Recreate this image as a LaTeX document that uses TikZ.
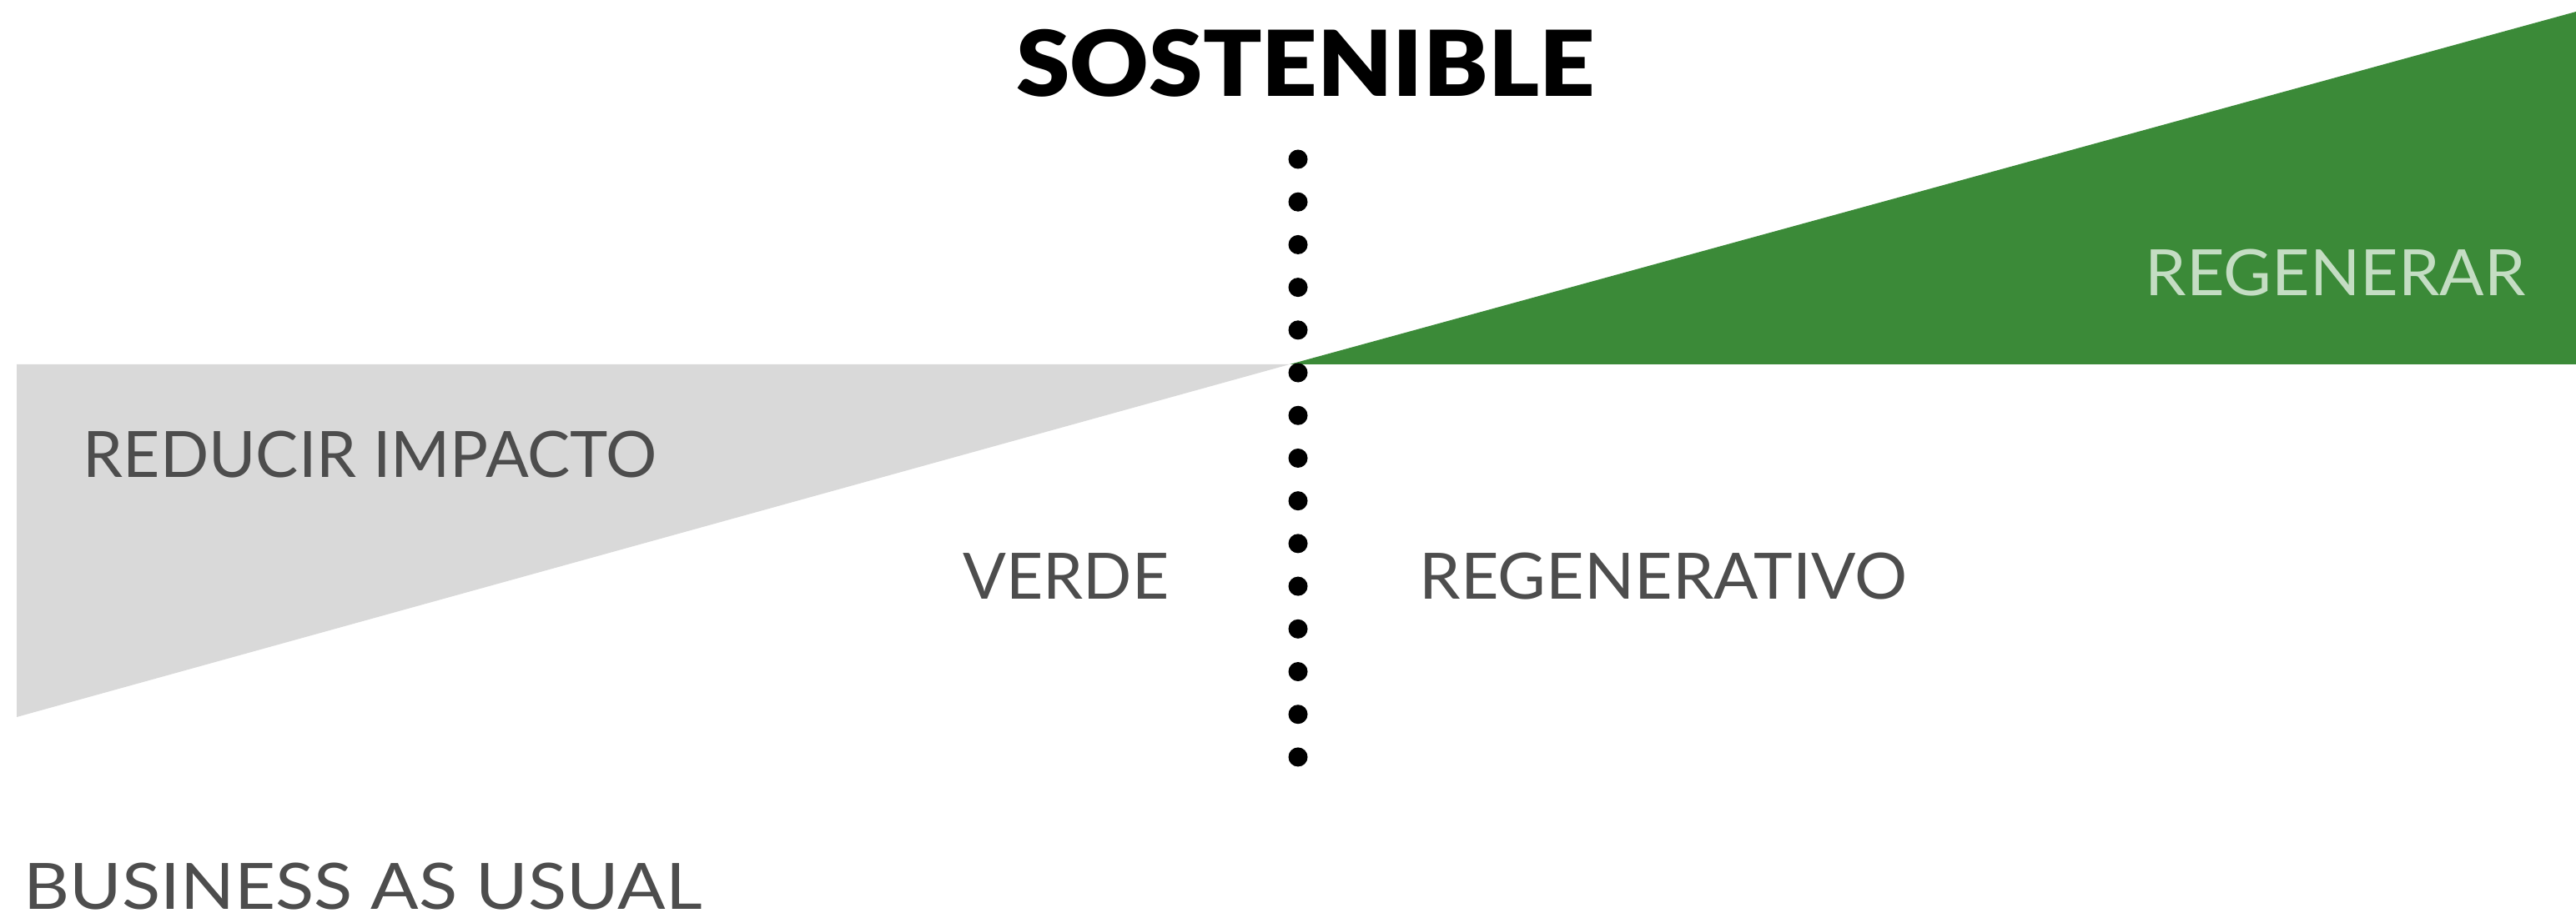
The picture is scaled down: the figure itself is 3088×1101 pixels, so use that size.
\documentclass[tikz,border=0pt]{standalone}
\usepackage{fontspec}
\setmainfont{Lato}
\newfontfamily\heavyfont{Lato Black}
\usetikzlibrary{positioning}
\definecolor{leafgreen}{HTML}{3B8A38}
\definecolor{palegreen}{HTML}{C4DDC3}
\definecolor{ashgray}{HTML}{D9D9D9}
\definecolor{inkgray}{HTML}{4D4D4D}
\tikzstyle{lbl} = [inner sep=0pt, anchor=base west, text=inkgray,
    text depth=0pt, font=\fontsize{21.8pt}{24pt}\selectfont]
\tikzstyle{head} = [inner sep=0pt, anchor=base,
    font=\heavyfont\fontsize{31pt}{34pt}\selectfont]

\begin{document}
\begin{tikzpicture}[x=0.01cm,y=-0.01cm]
  \useasboundingbox (0,0) rectangle (3088,1101);

  \coordinate (apex) at (1546,437);
  \coordinate (grayTop) at (20,437);
  \coordinate (grayLow) at (20,860);
  \coordinate (greenTop) at (3088,14);
  \coordinate (greenLow) at (3088,437);

  \fill[ashgray] (grayTop) -- (apex) -- (grayLow) -- cycle;
  \fill[leafgreen] (apex) -- (greenTop) -- (greenLow) -- cycle;

  % dotted divider
  \foreach \i in {0,...,14}
    \fill (1556,191+\i*51.21) circle [radius=1.15mm];

  \node[head, xscale=1.067] (sost) at (1565,116) {SOSTENIBLE};
  \node[lbl, text=palegreen, xscale=1.03] (regen) at (2571,355) {REGENERAR};
  \node[lbl] (reduc) at (99,573) {REDUCIR IMPACTO};
  \node[lbl] (verde) at (1154,719) {VERDE};
  \node[lbl, xscale=1.03] (regtivo) at (1701,719) {REGENERATIVO};
  \node[lbl, xscale=1.11] (bau) at (28,1090) {BUSINESS AS USUAL};
\end{tikzpicture}
\end{document}
